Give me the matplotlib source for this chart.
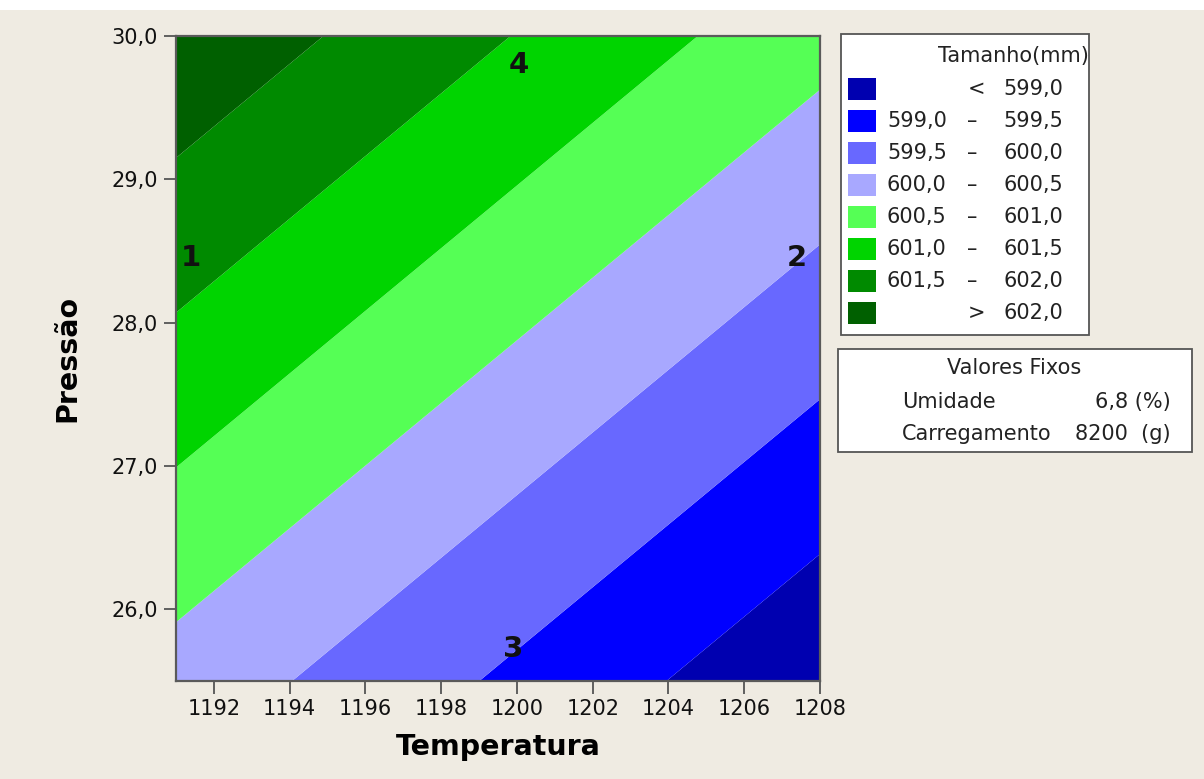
import matplotlib
matplotlib.use("Agg", force=True)

import matplotlib.pyplot as plt
import numpy as np
from matplotlib.patches import Rectangle

# response surface (Tamanho), holding Umidade / Carregamento fixed
center_temp = 1200.0
center_pres = 28.0
size_at_center = 600.557
slope_temp = -0.1012   # mm per degree
slope_pres = 0.463     # mm per unit of pressure

temp_range = [1191.0, 1208.0]
pres_range = [25.5, 30.0]
temp_ticks = [1192, 1194, 1196, 1198, 1200, 1202, 1204, 1206, 1208]
pres_ticks = [26.0, 27.0, 28.0, 29.0, 30.0]

level_edges = [599.0, 599.5, 600.0, 600.5, 601.0, 601.5, 602.0]
level_colors = ["#0000b0", "#0000ff", "#6868ff", "#a8a8ff",
                "#55ff55", "#00d400", "#008a00", "#006000"]

point_labels = ["1", "2", "3", "4"]
point_temp = [1191.4, 1207.4, 1199.9, 1200.05]
point_pres = [28.45, 28.45, 25.72, 29.8]

fixed_names = ["Umidade", "Carregamento"]
fixed_values = ["6,8 (%)", "8200  (g)"]

BG = "#efebe2"
TXT = "#222222"
FS = 15


def fmt(v):
    return f"{v:.1f}".replace(".", ",")


fig = plt.figure(figsize=(12.04, 7.79), dpi=100, facecolor=BG)

# overlay in pixel coordinates for the white strip and the legend boxes
ov = fig.add_axes([0, 0, 1, 1])
ov.set_xlim(0, 1204)
ov.set_ylim(779, 0)
ov.axis("off")
ov.add_patch(Rectangle((0, 0), 1204, 10, facecolor="white", edgecolor="none"))

W, H = 1204, 779
ax = fig.add_axes([176 / W, (H - 681) / H, 644 / W, 645 / H])

tt = np.linspace(temp_range[0], temp_range[1], 300)
pp = np.linspace(pres_range[0], pres_range[1], 300)
T, P = np.meshgrid(tt, pp)
Z = size_at_center + slope_temp * (T - center_temp) + slope_pres * (P - center_pres)

bounds = [Z.min() - 1] + level_edges + [Z.max() + 1]
ax.contourf(T, P, Z, levels=bounds, colors=level_colors, antialiased=True)

for lab, x, y in zip(point_labels, point_temp, point_pres):
    ax.text(x, y, lab, fontsize=21, fontweight="bold", ha="center", va="center",
            color="#111111")

ax.set_xlim(*temp_range)
ax.set_ylim(*pres_range)
ax.set_xticks(temp_ticks)
ax.set_xticklabels([str(t) for t in temp_ticks], fontsize=15)
ax.set_yticks(pres_ticks)
ax.set_yticklabels([fmt(p) for p in pres_ticks], fontsize=15)
ax.tick_params(axis="both", direction="out", length=9, width=1.3, color="#555555",
               labelcolor="#111111", pad=4)
for sp in ax.spines.values():
    sp.set_color("#5a5a5a")
    sp.set_linewidth(1.6)

ax.set_xlabel("Temperatura", fontsize=20.5, fontweight="bold", labelpad=10)
ax.set_ylabel("Pressão", fontsize=20.5, fontweight="bold", labelpad=22)

# legend box: Tamanho(mm)
ov.add_patch(Rectangle((841, 34), 248, 301, facecolor="white", edgecolor="#555555",
                       linewidth=1.3))
ov.text(1089, 56, "Tamanho(mm)", fontsize=FS, ha="right", va="center", color=TXT)
row_y = 89
for i, c in enumerate(level_colors):
    y = row_y + 32 * i
    ov.add_patch(Rectangle((848, y - 11), 28, 22, facecolor=c, edgecolor="none"))
    if i == 0:
        ov.text(977, y, "<", fontsize=FS, ha="center", va="center", color=TXT)
        ov.text(1063, y, fmt(level_edges[0]), fontsize=FS, ha="right", va="center",
                color=TXT)
    elif i == len(level_colors) - 1:
        ov.text(977, y, ">", fontsize=FS, ha="center", va="center", color=TXT)
        ov.text(1063, y, fmt(level_edges[-1]), fontsize=FS, ha="right", va="center",
                color=TXT)
    else:
        ov.text(887, y, fmt(level_edges[i - 1]), fontsize=FS, ha="left", va="center",
                color=TXT)
        ov.text(972, y, "–", fontsize=FS, ha="center", va="center", color=TXT)
        ov.text(1063, y, fmt(level_edges[i]), fontsize=FS, ha="right", va="center",
                color=TXT)

# fixed values box
ov.add_patch(Rectangle((838, 349), 354, 103, facecolor="white", edgecolor="#555555",
                       linewidth=1.3))
ov.text(1014, 368, "Valores Fixos", fontsize=FS, ha="center", va="center", color=TXT)
for i, (name, val) in enumerate(zip(fixed_names, fixed_values)):
    y = 402 + 32 * i
    ov.text(902, y, name, fontsize=FS, ha="left", va="center", color=TXT)
    ov.text(1171, y, val, fontsize=FS, ha="right", va="center", color=TXT)

fig.savefig("out.png", dpi=100, facecolor=BG)
